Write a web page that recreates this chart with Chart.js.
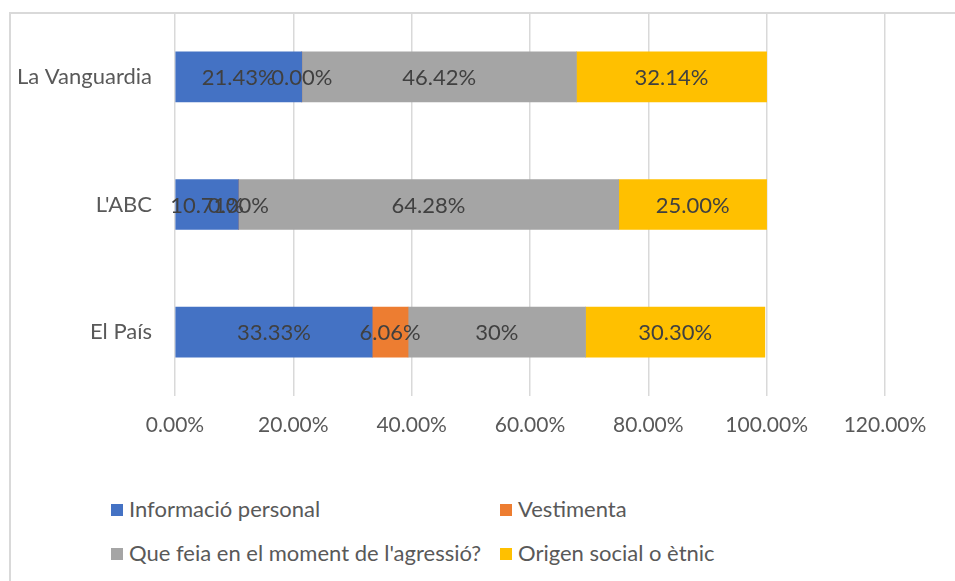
<!DOCTYPE html>
<html>
<head>
<meta charset="utf-8">
<script src="https://cdn.jsdelivr.net/npm/chart.js@4/dist/chart.umd.min.js"></script>
<style>
    body { margin: 0; background: #fff; }
    #wrap { position: relative; width: 955px; height: 581px; overflow: hidden; font-family: Lato, "Open Sans", sans-serif; }
    #frame { position: absolute; left: 9px; top: 12px; width: 980px; height: 600px; border-left: 2px solid #d9d9d9; border-top: 2px solid #d9d9d9; }
    #chart { position: absolute; left: 0; top: 0; }
    .leg { position: absolute; font-size: 22px; color: #595959; line-height: 26px; white-space: nowrap; }
    .leg span { display: inline-block; width: 12px; height: 12px; margin-right: 6px; vertical-align: 1px; }
</style>
</head>
<body>
<div id="wrap">
    <div id="frame"></div>
    <canvas id="chart" width="955" height="460"></canvas>
    <div id="legend"></div>
</div>
<script>
// values as printed on the bars (percent)
const newspapers = ['La Vanguardia', "L'ABC", 'El País'];
const seriesNames = ['Informació personal', 'Vestimenta', "Que feia en el moment de l'agressió?", 'Origen social o ètnic'];
const personal = ['21.43', '10.71', '33.33'];
const clothing = ['0.00', '0.00', '6.06'];
const doing = ['46.42', '64.28', '30'];
const origin = ['32.14', '25.00', '30.30'];
const xTicks = [0, 20, 40, 60, 80, 100, 120];
const colors = ['#4472c4', '#ed7d31', '#a5a5a5', '#ffc000'];

const textColor = '#595959';

let series = [personal, clothing, doing, origin];
let datasets = series.map((s, i) => ({
    label: seriesNames[i],
    data: s.map(Number),
    labelsText: s.map(v => v + '%'),
    backgroundColor: colors[i],
    borderWidth: 0,
    barThickness: 50,
}));

const barLabels = {
    id: 'barLabels',
    afterDatasetsDraw(chart) {
        let ctx = chart.ctx;
        ctx.save();
        ctx.font = '22px Lato';
        ctx.fillStyle = '#404040';
        ctx.textAlign = 'center';
        ctx.textBaseline = 'middle';
        chart.data.datasets.forEach((ds, i) => {
            let meta = chart.getDatasetMeta(i);
            meta.data.forEach((bar, j) => {
                ctx.fillText(ds.labelsText[j], (bar.x + bar.base) / 2, bar.y + 1);
            });
        });
        ctx.restore();
    }
};

const config = {
    type: 'bar',
    data: { labels: newspapers, datasets: datasets },
    options: {
        indexAxis: 'y',
        responsive: false,
        animation: false,
        layout: { padding: { top: 13, right: 70, left: 0, bottom: 0 } },
        plugins: {
            legend: { display: false },
            tooltip: { enabled: false },
        },
        scales: {
            x: {
                stacked: true,
                min: 0,
                max: 120,
                afterBuildTicks: scale => { scale.ticks = xTicks.map(v => ({ value: v })); },
                afterFit: scale => { scale.height = 64; scale.paddingLeft = 0; scale.paddingRight = 0; },
                ticks: {
                    color: textColor,
                    font: { family: 'Lato', size: 21 },
                    padding: 17,
                    maxRotation: 0,
                    callback: v => v.toFixed(2) + '%',
                },
                grid: { color: '#d9d9d9', lineWidth: 1.5, drawTicks: false },
                border: { display: false },
            },
            y: {
                stacked: true,
                afterFit: scale => { scale.width = 175; scale.paddingTop = 0; scale.paddingBottom = 0; },
                ticks: { color: textColor, font: { family: 'Lato', size: 22 }, padding: 23 },
                grid: { display: false, drawTicks: false },
                border: { display: false },
            }
        }
    },
    plugins: [barLabels],
};

var ctx = document.getElementById('chart').getContext('2d');
new Chart(ctx, config);

// two-column legend like the original
let legendPos = [[111, 496], [500, 496], [111, 540], [500, 540]];
let legend = document.getElementById('legend');
datasets.forEach((ds, i) => {
    let d = document.createElement('div');
    d.className = 'leg';
    d.style.left = legendPos[i][0] + 'px';
    d.style.top = legendPos[i][1] + 'px';
    d.innerHTML = '<span style="background:' + ds.backgroundColor + '"></span>' + ds.label;
    legend.appendChild(d);
});
</script>
</body>
</html>
